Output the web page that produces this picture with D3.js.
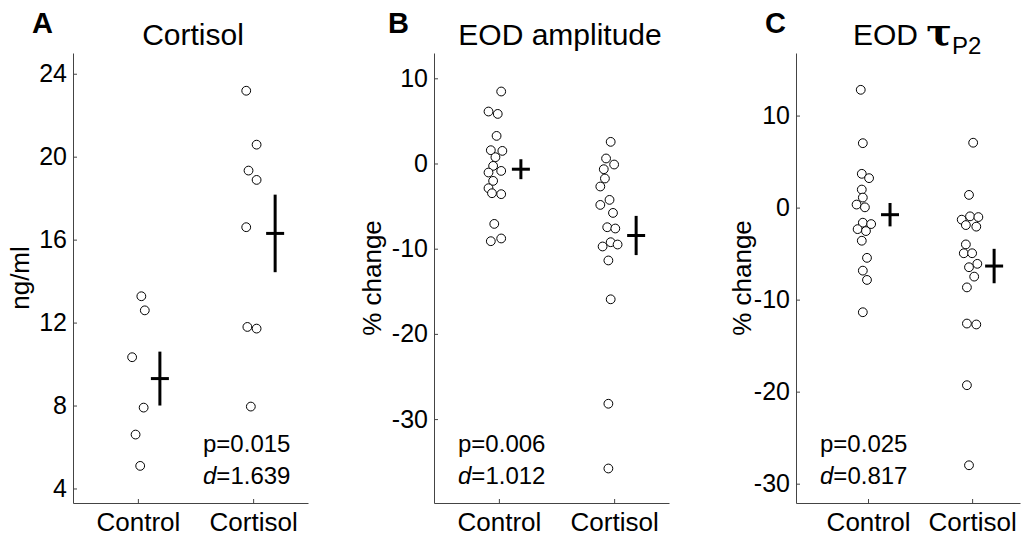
<!DOCTYPE html>
<html>
<head>
<meta charset="utf-8">
<script src="https://cdn.jsdelivr.net/npm/d3@7"></script>
<style>
  body { margin: 0; background: #fff; }
  svg { display: block; font-family: "Liberation Sans", Arial, sans-serif; }
</style>
</head>
<body>
<svg id="fig" width="1024" height="540"></svg>
<script>
const categories = ["Control", "Cortisol"];

// A: cortisol concentration (ng/ml); jitter is the x offset from the group centre
const cortControl = [13.27, 12.59, 10.33, 7.9, 6.6, 5.09];
const cortControlJit = [0.03, 0.06, -0.05, 0.05, -0.02, 0.02];
const cortCortisol = [23.18, 20.58, 19.33, 18.88, 16.6, 11.79, 11.71, 7.95];
const cortCortisolJit = [-0.06, 0.03, -0.04, 0.03, -0.06, -0.05, 0.03, -0.02];
const cortMean = [9.3, 16.3];
const cortSE = [1.3, 1.87];
const cortTicks = [4, 8, 12, 16, 20, 24];

// B: EOD amplitude, % change
const ampControl = [8.45, 6.1, 5.82, 3.24, 1.56, 1.48, 0.74, -0.28, -0.87, -1.06, -2.04, -2.9, -3.49, -3.6, -7.09, -9.12, -8.8];
const ampControlJit = [0.02, -0.09, -0.01, -0.02, -0.07, 0.03, -0.03, -0.05, 0.02, -0.09, -0.05, -0.09, -0.06, 0.02, -0.04, -0.07, 0.02];
const ampCortisol = [2.54, 0.59, -0.12, -0.67, -1.76, -2.7, -4.27, -4.86, -5.8, -7.48, -7.63, -9.24, -9.74, -9.51, -11.38, -15.94, -28.2, -35.8];
const ampCortisolJit = [-0.03, -0.07, 0, -0.09, -0.08, -0.12, -0.04, -0.12, -0.01, -0.06, 0.01, -0.03, -0.1, 0.03, -0.05, -0.03, -0.05, -0.05];
const ampMean = [-0.67, -8.45];
const ampSE = [1.17, 2.3];
const ampTicks = [-30, -20, -10, 0, 10];

// C: EOD tau P2, % change
const tauControl = [12.8, 7.0, 3.67, 3.2, 1.96, 1.09, 0.33, 0.03, -1.64, -1.79, -2.34, -2.55, -3.6, -5.46, -6.85, -7.86, -11.37];
const tauControlJit = [-0.07, -0.05, -0.06, 0.01, -0.06, -0.05, -0.11, -0.03, -0.05, 0.03, -0.1, -0.02, -0.06, -0.01, -0.05, -0.01, -0.05];
const tauCortisol = [7.05, 1.38, -1.31, -0.95, -1.03, -1.9, -2.07, -4.0, -4.96, -4.96, -6.11, -6.48, -7.5, -8.67, -12.6, -12.7, -19.3, -28.0];
const tauCortisolJit = [0.01, -0.03, -0.1, -0.02, 0.06, -0.06, 0.04, -0.06, -0.08, 0, 0.05, -0.03, 0.02, -0.05, -0.05, 0.04, -0.05, -0.03];
const tauMean = [-0.77, -6.35];
const tauSE = [1.27, 1.87];
const tauTicks = [-30, -20, -10, 0, 10];

const svg = d3.select("#fig");
const plotTop = 53, plotBottom = 503;
const axisCol = "#444";

function panel(o) {
  const x = d3.scaleLinear().domain(o.xDomain).range([o.left, o.right]);
  const y = d3.scaleLinear().domain(o.yDomain).range([plotBottom, plotTop]);
  const g = svg.append("g");

  const ya = g.append("g")
    .attr("transform", "translate(" + o.left + ",0)")
    .call(d3.axisLeft(y).tickValues(o.ticks).tickFormat(d => String(d))
      .tickSizeInner(-4).tickSizeOuter(0).tickPadding(6));
  const xa = g.append("g")
    .attr("transform", "translate(0," + plotBottom + ")")
    .call(d3.axisBottom(x).tickValues([1, 2]).tickFormat((d, i) => categories[i])
      .tickSizeInner(-4).tickSizeOuter(0).tickPadding(10));
  [ya, xa].forEach(a => {
    a.attr("font-family", null).attr("font-size", null);
    a.selectAll("path, line").attr("stroke", axisCol);
    a.selectAll("text").attr("fill", "#000").style("font-size", "25px");
  });
  xa.selectAll("text").style("font-size", "26px");

  // points
  o.groups.forEach((grp, gi) => {
    g.append("g").selectAll("circle")
      .data(grp.vals.map((v, i) => ({v: v, j: grp.jit[i]})))
      .join("circle")
      .attr("cx", d => x(gi + 1 + d.j))
      .attr("cy", d => y(d.v))
      .attr("r", 4.4)
      .attr("fill", "#fff")
      .attr("stroke", "#000")
      .attr("stroke-width", 1);
  });

  // mean +/- SE crosses
  const cx = i => x(i + 1) + 22;
  g.selectAll(".vbar").data(o.mean).join("line")
    .attr("x1", (d, i) => cx(i)).attr("x2", (d, i) => cx(i))
    .attr("y1", (d, i) => y(d + o.se[i])).attr("y2", (d, i) => y(d - o.se[i]))
    .attr("stroke", "#000").attr("stroke-width", 3);
  g.selectAll(".hbar").data(o.mean).join("line")
    .attr("x1", (d, i) => cx(i) - 9).attr("x2", (d, i) => cx(i) + 9)
    .attr("y1", d => y(d)).attr("y2", d => y(d))
    .attr("stroke", "#000").attr("stroke-width", 3);

  // y label
  g.append("text")
    .attr("transform", "translate(" + o.labelX + "," + (plotTop + plotBottom) / 2 + ") rotate(-90)")
    .attr("text-anchor", "middle")
    .style("font-size", "26px")
    .text(o.yLabel);

  // stats
  g.append("text").attr("x", o.statX).attr("y", 452).style("font-size", "24px").text("p=" + o.p);
  const dt = g.append("text").attr("x", o.statX).attr("y", 484).style("font-size", "24px");
  dt.append("tspan").style("font-style", "italic").text("d");
  dt.append("tspan").text("=" + o.d);

  // panel letter
  g.append("text").attr("x", o.letterX).attr("y", 33)
    .style("font-size", "29px").style("font-weight", "bold").text(o.letter);
  return g;
}

const gA = panel({
  left: 73, right: 308, xDomain: [0.437, 2.476], yDomain: [3.3, 25], ticks: cortTicks,
  groups: [{vals: cortControl, jit: cortControlJit}, {vals: cortCortisol, jit: cortCortisolJit}],
  mean: cortMean, se: cortSE, yLabel: "ng/ml", labelX: 29,
  statX: 203, p: "0.015", d: "1.639", letter: "A", letterX: 32
});
gA.append("text").attr("x", 193).attr("y", 45).attr("text-anchor", "middle")
  .style("font-size", "30px").text("Cortisol");

const gB = panel({
  left: 434, right: 669, xDomain: [0.437, 2.476], yDomain: [-39.85, 12.97], ticks: ampTicks,
  groups: [{vals: ampControl, jit: ampControlJit}, {vals: ampCortisol, jit: ampCortisolJit}],
  mean: ampMean, se: ampSE, yLabel: "% change", labelX: 381,
  statX: 458, p: "0.006", d: "1.012", letter: "B", letterX: 388
});
gB.append("text").attr("x", 560).attr("y", 45).attr("text-anchor", "middle")
  .style("font-size", "30px").text("EOD amplitude");

const gC = panel({
  left: 796, right: 1020, xDomain: [0.308, 2.46], yDomain: [-32.1, 16.8], ticks: tauTicks,
  groups: [{vals: tauControl, jit: tauControlJit}, {vals: tauCortisol, jit: tauCortisolJit}],
  mean: tauMean, se: tauSE, yLabel: "% change", labelX: 751,
  statX: 820, p: "0.025", d: "0.817", letter: "C", letterX: 765
});
const tC = gC.append("text").attr("x", 853).attr("y", 45).style("font-size", "30px");
tC.append("tspan").text("EOD ");
tC.append("tspan").style("font-family", "DejaVu Serif").style("font-weight", "bold").style("font-size", "38px").text("τ");
tC.append("tspan").attr("dy", 9).style("font-size", "24px").text("P2");
</script>
</body>
</html>
